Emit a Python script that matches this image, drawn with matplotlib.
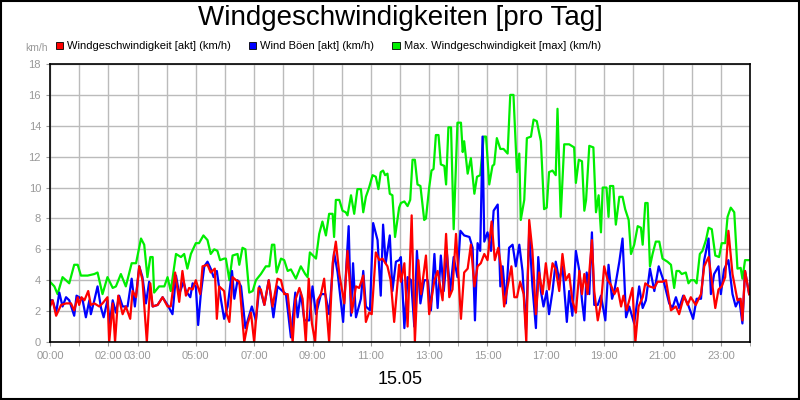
import matplotlib
matplotlib.use("Agg")
import matplotlib.pyplot as plt
from matplotlib.patches import Rectangle

plt.rcParams["font.family"] = "Liberation Sans"

title = "Windgeschwindigkeiten [pro Tag]"
date_label = "15.05"
unit = "km/h"
series_names = ["Windgeschwindigkeit [akt] (km/h)", "Wind Böen [akt] (km/h)", "Max. Windgeschwindigkeit [max] (km/h)"]
series_colors = ["#ff0000", "#0000ff", "#00ee00"]
xtick_hours = [0, 2, 3, 5, 7, 9, 11, 13, 15, 17, 19, 21, 23]
xtick_labels = ["00:00", "02:00", "03:00", "05:00", "07:00", "09:00", "11:00", "13:00", "15:00", "17:00", "19:00", "21:00", "23:00"]

green_t = [0.0,0.15,0.26,0.43,0.66,0.83,0.95,1.06,1.29,1.52,1.63,1.8,1.97,2.15,2.26,2.43,2.6,2.8,2.95,3.12,3.23,3.34,3.44,3.52,3.57,3.74,3.92,4.03,4.14,4.32,4.49,4.6,4.71,4.83,5.0,5.11,5.26,5.4,5.51,5.63,5.74,5.83,5.97,
 6.03,6.15,6.26,6.43,6.49,6.6,6.7,6.83,6.95,7.06,7.23,7.4,7.52,7.61,7.69,7.77,7.92,8.03,8.15,8.26,8.43,8.6,8.75,8.83,8.91,9.12,9.23,9.34,9.46,9.57,9.69,9.74,9.8,9.92,10.03,10.14,10.2,10.32,10.43,10.54,10.66,10.74,10.83,10.94,11.06,11.17,11.26,11.34,11.42,11.49,11.57,11.65,11.74,11.83,11.97,
 12.03,12.15,12.26,12.35,12.43,12.51,12.6,12.7,12.83,12.89,13.0,13.08,13.15,13.23,13.32,13.4,13.52,13.58,13.66,13.75,13.84,13.97,14.09,14.15,14.2,14.32,14.43,14.55,14.64,14.75,14.87,14.95,15.06,15.17,15.23,15.32,15.44,15.55,15.69,15.78,15.89,16.01,16.09,16.14,16.26,16.35,16.49,16.58,16.69,16.83,16.94,17.03,17.11,17.23,17.34,17.4,17.51,17.63,17.8,17.97,
 18.03,18.13,18.24,18.32,18.38,18.49,18.63,18.72,18.81,18.89,18.95,19.08,19.15,19.2,19.31,19.4,19.52,19.63,19.72,19.84,19.92,20.03,20.15,20.26,20.32,20.41,20.49,20.57,20.66,20.77,20.89,21.0,21.17,21.29,21.4,21.48,21.57,21.66,21.8,21.89,21.97,22.09,22.17,22.28,22.37,22.49,22.58,22.69,22.81,22.94,23.03,23.15,23.23,23.34,23.46,23.57,23.68,23.74,23.83,23.97]
green_v = [3.9,3.6,3.1,4.2,3.8,5.0,5.0,4.3,4.3,4.4,4.5,3.1,4.2,3.5,3.6,4.4,3.6,5.1,5.1,6.7,6.3,4.2,5.5,5.5,3.2,3.6,3.6,4.2,3.3,5.7,5.5,5.7,4.75,5.7,6.4,6.4,6.9,6.6,5.7,6.0,5.9,5.3,5.4,
 5.4,4.0,5.6,5.7,5.0,6.1,6.0,3.2,3.3,4.0,4.4,4.9,4.9,6.3,6.3,4.5,5.4,5.3,4.6,4.7,4.1,4.9,4.4,4.2,5.8,5.4,7.0,7.8,6.9,8.3,8.3,6.8,9.2,9.2,8.5,8.4,8.2,9.5,8.3,9.9,9.9,8.4,9.4,10.0,10.8,10.7,9.9,11.0,11.1,10.8,10.9,9.6,9.5,6.8,8.7,
 9.0,9.1,8.8,9.2,11.8,11.8,10.2,10.1,7.9,8.0,10.0,11.1,11.2,13.4,13.4,11.5,11.4,10.2,13.9,13.9,7.3,14.2,14.2,12.3,13.0,10.9,11.9,9.6,10.7,10.8,13.3,13.3,10.2,11.4,11.5,13.2,12.5,12.5,12.2,16.0,16.0,11.0,12.2,7.9,9.2,13.2,13.3,14.4,14.3,13.0,8.6,8.7,11.0,11.1,10.8,15.1,8.1,12.8,12.8,12.6,
 10.3,11.8,11.7,8.5,9.2,12.7,12.6,8.4,9.5,7.1,10.0,10.0,8.1,10.1,10.1,7.6,9.4,9.4,8.6,7.9,5.7,6.3,7.5,7.4,6.3,9.0,9.0,4.9,5.7,6.5,6.5,5.4,5.2,5.0,3.5,4.6,4.6,4.4,4.5,3.8,4.0,4.0,3.8,5.7,5.9,6.6,7.4,7.3,5.6,5.5,6.4,6.4,8.1,8.7,8.4,4.75,4.8,4.1,5.3,5.3]

blue_t = [0.0,0.09,0.21,0.32,0.43,0.55,0.66,0.83,0.91,1.0,1.12,1.23,1.35,1.4,1.52,1.63,1.75,1.84,1.97,2.05,2.15,2.26,2.37,2.49,2.66,2.8,2.91,3.06,3.17,3.29,3.4,3.52,3.69,3.86,4.03,4.2,4.32,4.43,4.58,4.66,4.81,4.89,5.0,5.08,5.17,5.29,5.4,5.51,5.61,5.72,5.83,5.97,
 6.09,6.24,6.32,6.43,6.55,6.7,6.81,6.92,7.06,7.18,7.35,7.5,7.66,7.8,7.97,8.09,8.26,8.41,8.49,8.6,8.72,8.89,9.0,9.12,9.29,9.44,9.57,9.74,9.86,10.05,10.24,10.32,10.39,10.49,10.66,10.74,10.83,10.97,11.08,11.23,11.34,11.42,11.51,11.65,11.74,11.86,11.97,
 12.03,12.15,12.26,12.38,12.49,12.58,12.7,12.83,12.95,13.06,13.18,13.29,13.4,13.5,13.61,13.72,13.84,13.97,14.07,14.2,14.38,14.49,14.57,14.66,14.75,14.83,14.89,15.0,15.12,15.21,15.35,15.44,15.52,15.63,15.74,15.86,15.97,16.09,16.2,16.32,16.43,16.54,16.66,16.74,16.83,16.92,17.03,17.11,17.23,17.34,17.46,17.57,17.72,17.8,17.91,
 18.03,18.15,18.24,18.32,18.4,18.49,18.58,18.66,18.78,18.89,19.04,19.15,19.27,19.35,19.52,19.63,19.75,19.86,20.03,20.2,20.32,20.43,20.57,20.72,20.87,21.03,21.23,21.34,21.46,21.57,21.71,21.86,22.05,22.17,22.32,22.43,22.58,22.66,22.77,22.92,23.0,23.11,23.26,23.4,23.51,23.63,23.74,23.83,23.97]
blue_v = [2.7,2.7,1.9,3.2,2.3,2.9,2.7,1.7,3.0,2.9,2.7,1.6,2.7,1.8,2.7,3.6,2.2,1.6,2.7,1.2,2.7,1.9,3.0,2.3,2.3,4.1,2.3,4.9,4.2,2.5,3.9,2.3,2.4,2.9,2.4,1.8,4.3,3.1,3.9,3.3,2.9,3.8,3.6,1.1,3.1,4.9,5.2,4.75,4.2,4.6,3.1,1.5,
 2.3,4.6,2.8,4.0,3.6,0.9,1.6,2.3,1.4,3.6,2.4,4.0,1.6,3.6,3.3,3.1,0.3,3.2,1.6,3.2,1.4,1.4,3.6,1.8,3.1,3.1,1.8,5.8,4.5,1.3,7.5,1.7,5.1,1.6,2.8,4.6,2.3,2.05,7.7,6.6,3.0,7.6,5.1,6.9,3.3,5.2,5.3,
 5.5,0.9,4.2,4.0,1.0,5.9,2.5,4.0,4.0,2.05,5.7,2.2,5.6,3.3,5.7,3.3,5.5,4.2,7.2,6.9,6.8,6.1,1.4,6.4,5.9,13.3,6.5,7.1,5.9,8.5,8.9,3.6,4.9,2.5,6.1,6.3,4.9,6.3,4.6,0.8,7.2,3.6,0.9,5.5,3.3,2.3,3.3,1.8,3.3,5.2,4.0,4.9,1.3,3.3,1.7,
 5.9,4.6,2.7,1.4,4.5,3.1,7.1,2.4,2.4,3.0,1.4,5.0,2.8,3.3,5.2,6.7,1.6,2.3,1.2,3.6,2.2,2.7,4.75,3.3,4.9,4.0,2.5,2.2,2.9,2.2,3.0,2.5,1.5,2.8,2.8,5.3,6.7,3.1,4.4,4.9,3.1,4.7,5.3,3.1,2.3,2.8,1.2,4.6,3.1]

red_t = [0.0,0.09,0.21,0.38,0.55,0.72,0.83,0.95,1.0,1.08,1.18,1.31,1.4,1.52,1.69,1.8,1.97,2.03,2.15,2.23,2.34,2.49,2.6,2.75,2.83,2.95,3.06,3.17,3.32,3.44,3.52,3.69,3.86,4.03,4.14,4.29,4.43,4.54,4.66,4.77,4.89,5.0,5.15,5.23,5.4,5.51,5.65,5.72,5.8,5.97,
 6.06,6.15,6.26,6.38,6.49,6.66,6.78,6.89,7.0,7.15,7.23,7.35,7.5,7.63,7.8,7.92,8.03,8.15,8.32,8.41,8.55,8.66,8.77,8.87,8.98,9.09,9.17,9.29,9.4,9.57,9.69,9.8,9.92,10.09,10.2,10.35,10.49,10.6,10.74,10.83,10.94,11.03,11.17,11.29,11.4,11.57,11.68,11.8,11.97,
 12.03,12.15,12.26,12.4,12.51,12.63,12.72,12.89,13.0,13.18,13.29,13.46,13.58,13.69,13.8,13.92,14.09,14.2,14.32,14.43,14.55,14.66,14.77,14.89,15.0,15.14,15.25,15.37,15.46,15.57,15.69,15.82,15.92,16.01,16.12,16.24,16.33,16.43,16.54,16.66,16.77,16.89,17.0,17.11,17.23,17.34,17.46,17.57,17.68,17.8,17.91,
 18.03,18.15,18.24,18.32,18.43,18.58,18.66,18.78,18.89,19.0,19.12,19.23,19.35,19.46,19.58,19.66,19.77,19.97,20.07,20.18,20.32,20.41,20.55,20.72,20.83,21.0,21.12,21.29,21.46,21.57,21.74,21.86,21.97,22.14,22.32,22.43,22.58,22.69,22.81,22.92,23.03,23.15,23.26,23.4,23.57,23.68,23.74,23.83,23.97]
red_v = [2.3,2.7,1.7,2.4,2.5,2.5,2.05,2.9,2.4,2.9,2.7,3.3,2.4,2.5,2.3,2.5,2.9,0,2.5,0,3.0,1.8,2.3,1.5,3.3,2.9,4.9,4.0,0,3.8,2.3,2.4,2.9,2.3,2.3,4.5,2.6,4.6,3.0,3.5,3.4,4.0,3.1,4.9,5.0,4.5,4.75,1.5,3.6,3.3,
 1.8,1.3,4.2,4.0,3.9,0,1.2,1.9,0,3.5,3.4,2.4,4.0,2.3,4.1,4.0,3.1,3.1,0,2.7,3.5,2.8,0,4.1,1.2,0,2.7,3.1,4.1,0,5.1,6.5,4.4,2.5,5.9,1.9,3.6,3.5,4.3,1.3,1.9,1.8,5.8,5.3,5.4,4.9,4.0,1.3,5.0,
 3.9,5.1,1.0,8.2,0,5.3,3.1,5.6,1.8,4.0,4.6,2.7,7.0,2.9,3.4,7.0,1.5,4.5,4.75,6.3,3.6,4.9,5.1,5.7,5.3,7.8,5.3,6.1,4.9,2.3,3.6,4.9,2.9,2.9,3.9,3.1,0,7.9,5.9,1.8,4.5,3.1,5.1,3.4,5.1,4.7,3.3,5.7,4.0,4.4,2.7,
 1.9,4.6,3.1,4.4,3.1,6.6,3.3,1.4,2.5,4.9,4.0,3.7,3.1,3.5,2.3,3.0,2.05,3.5,0,2.3,2.9,3.8,3.6,3.5,3.9,3.9,4.0,2.05,2.3,1.8,3.0,2.4,2.9,2.4,3.1,4.9,5.5,4.0,2.2,3.4,3.6,4.2,7.2,4.4,2.7,2.8,1.4,4.6,3.1]

fig = plt.figure(figsize=(8, 4), dpi=100)
fig.patch.set_facecolor("white")
fig.add_artist(Rectangle((0.001, 0.002), 0.998, 0.996, transform=fig.transFigure,
                         fill=False, edgecolor="black", linewidth=1.5))
ax = fig.add_axes([0.0625, 0.145, 0.875, 0.695])

for (t, v), c in zip([(green_t, green_v), (blue_t, blue_v), (red_t, red_v)],
                     [series_colors[2], series_colors[1], series_colors[0]]):
    n = min(len(t), len(v))
    ax.plot(t[:n], v[:n], color=c, linewidth=1.6, solid_joinstyle="round")

ax.set_xlim(0, 24)
ax.set_ylim(0, 18)
ax.set_yticks(range(0, 19, 2))
ax.set_xticks(range(0, 25), minor=True)
ax.set_xticks(xtick_hours)
ax.set_xticklabels(xtick_labels)
ax.grid(True, which="both", axis="x", color="#bbbbbb", linewidth=1)
ax.grid(True, which="major", axis="y", color="#bbbbbb", linewidth=1)
ax.set_axisbelow(True)
ax.tick_params(axis="both", which="both", labelsize=8, labelcolor="#999999", color="#999999", length=3)
for s in ax.spines.values():
    s.set_color("black")
    s.set_linewidth(1.2)

fig.text(0.5, 0.955, title, ha="center", va="center", fontsize=20)
fig.text(0.5, 0.05, date_label, ha="center", va="center", fontsize=13)
fig.text(0.045, 0.88, unit, ha="center", va="center", fontsize=7.5, color="#999999")

leg_x = [0.073, 0.315, 0.494]
for x, name, c in zip(leg_x, series_names, series_colors):
    fig.add_artist(Rectangle((x - 0.0035, 0.877), 0.009, 0.018, transform=fig.transFigure,
                             facecolor=c, edgecolor="black", linewidth=0.6))
    fig.text(x + 0.0105, 0.886, name, ha="left", va="center", fontsize=8)

fig.savefig("out.png", dpi=100)
